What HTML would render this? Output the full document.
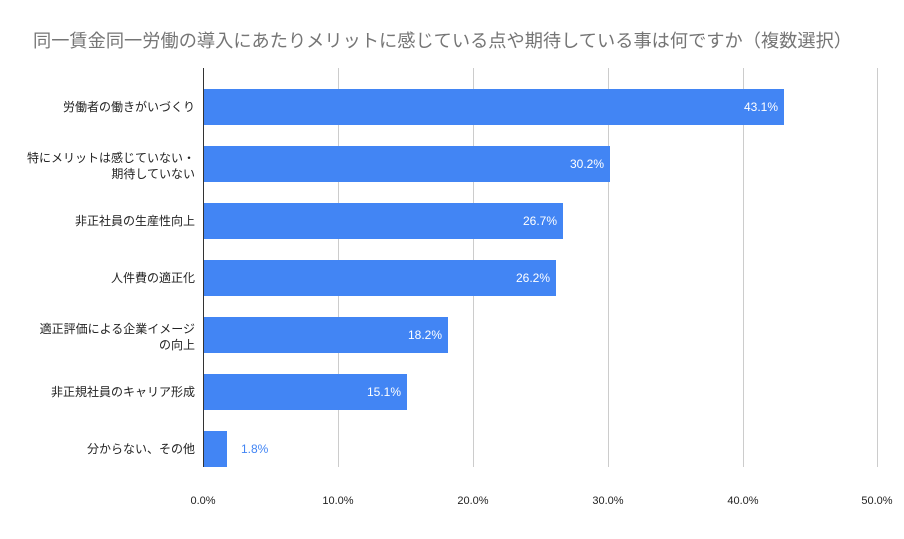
<!DOCTYPE html>
<html><head><meta charset="utf-8"><style>
body{margin:0;background:#fff;}
svg text{font-family:"Liberation Sans","Noto Sans CJK JP",sans-serif;}
</style></head><body>
<svg width="904" height="534" xmlns="http://www.w3.org/2000/svg">
<rect width="904" height="534" fill="#fff"/>
<text x="33" y="47" font-size="18" fill="#757575" textLength="819" lengthAdjust="spacingAndGlyphs">同一賃金同一労働の導入にあたりメリットに感じている点や期待している事は何ですか（複数選択）</text>
<g stroke="#cccccc" stroke-width="1">
<line x1="338.5" y1="68" x2="338.5" y2="467"/>
<line x1="473.5" y1="68" x2="473.5" y2="467"/>
<line x1="608.5" y1="68" x2="608.5" y2="467"/>
<line x1="743.5" y1="68" x2="743.5" y2="467"/>
<line x1="877.5" y1="68" x2="877.5" y2="467"/>
</g>
<g fill="#4285f4">
<rect x="203" y="89" width="581" height="36"/>
<rect x="203" y="146" width="407" height="36"/>
<rect x="203" y="203" width="360" height="36"/>
<rect x="203" y="260" width="353" height="36"/>
<rect x="203" y="317" width="245" height="36"/>
<rect x="203" y="374" width="204" height="36"/>
<rect x="203" y="431" width="24" height="36"/>
</g>
<line x1="203.5" y1="68" x2="203.5" y2="467" stroke="#333" stroke-width="1"/>
<g font-size="12" fill="#fff" text-anchor="end">
<text x="778" y="111">43.1%</text>
<text x="604" y="168">30.2%</text>
<text x="557" y="225">26.7%</text>
<text x="550" y="282">26.2%</text>
<text x="442" y="339">18.2%</text>
<text x="401" y="396">15.1%</text>
</g>
<text x="241" y="453" font-size="12" fill="#4285f4">1.8%</text>
<g font-size="12" fill="#222" text-anchor="end">
<text x="195" y="111">労働者の働きがいづくり</text>
<text x="195" y="162">特にメリットは感じていない・</text>
<text x="195" y="178">期待していない</text>
<text x="195" y="225">非正社員の生産性向上</text>
<text x="195" y="282">人件費の適正化</text>
<text x="195" y="333">適正評価による企業イメージ</text>
<text x="195" y="349">の向上</text>
<text x="195" y="396">非正規社員のキャリア形成</text>
<text x="195" y="453">分からない、その他</text>
</g>
<g font-size="11" fill="#222" text-anchor="middle">
<text x="203" y="504">0.0%</text>
<text x="338" y="504">10.0%</text>
<text x="473" y="504">20.0%</text>
<text x="608" y="504">30.0%</text>
<text x="743" y="504">40.0%</text>
<text x="877" y="504">50.0%</text>
</g>
</svg>
</body></html>
